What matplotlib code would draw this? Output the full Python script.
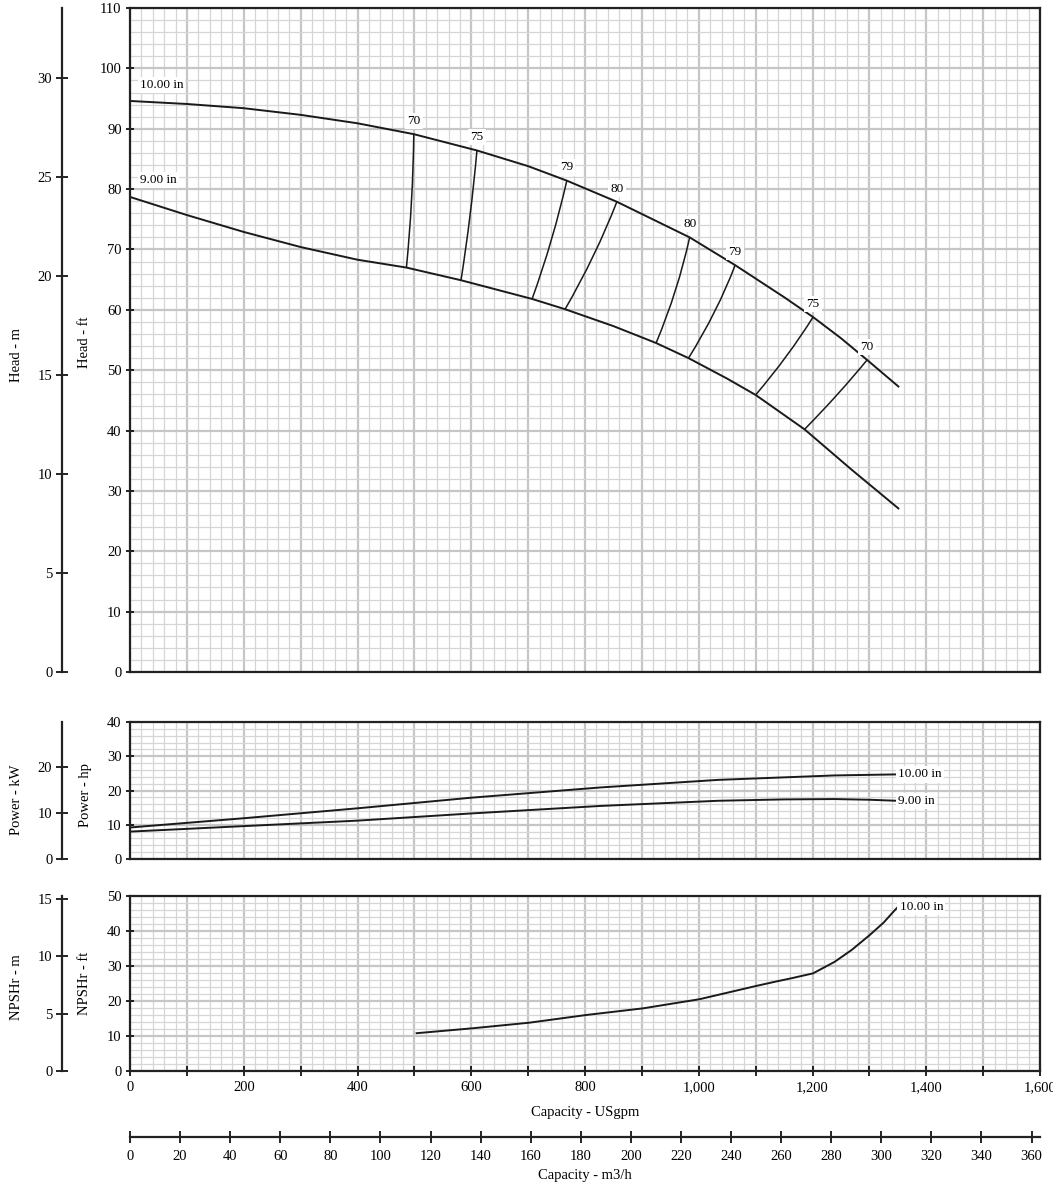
import matplotlib
matplotlib.use("Agg")
from matplotlib import pyplot as plt
from matplotlib.ticker import MultipleLocator, FuncFormatter
from matplotlib.path import Path
from matplotlib.patches import PathPatch
import numpy as np

plt.rcParams['font.family'] = ['Liberation Serif', 'DejaVu Serif']
plt.rcParams['font.size'] = 10

# unit conversions
FT_M = 0.3048
HP_KW = 0.7457
GPM_M3H = 0.22712

# head curves (USgpm, ft)
q_10 = [0, 100, 200, 300, 400, 499, 610, 700, 768, 856, 984, 1064, 1150, 1201, 1250, 1296, 1351]
h_10 = [94.6, 94.1, 93.4, 92.3, 90.9, 89.1, 86.4, 83.8, 81.4, 77.9, 72.0, 67.4, 62.1, 58.8, 55.3, 51.7, 47.3]
q_9 = [0, 100, 200, 300, 400, 486, 582, 707, 765, 850, 925, 982, 1050, 1100, 1186, 1269, 1310, 1351]
h_9 = [78.7, 75.7, 72.9, 70.4, 68.3, 67.0, 64.9, 61.8, 60.1, 57.3, 54.5, 52.0, 48.6, 45.9, 40.2, 33.5, 30.3, 27.1]

# iso-efficiency lines: top point, middle point, bottom point
eff_labels = ['70', '75', '79', '80', '80', '79', '75', '70']
eff_q = [[499, 495, 486], [610, 598, 582], [768, 741, 707], [856, 815, 765],
         [984, 959, 925], [1064, 1028, 982], [1201, 1154, 1100], [1296, 1244, 1186]]
eff_h = [[89.1, 78.0, 67.0], [86.4, 75.7, 64.9], [81.4, 71.6, 61.8], [77.9, 69.0, 60.1],
         [72.0, 63.2, 54.5], [67.4, 59.7, 52.0], [58.8, 52.3, 45.9], [51.7, 46.0, 40.2]]

# power (USgpm, hp)
pq_10 = [0, 200, 400, 600, 828, 1034, 1239, 1348]
p_10 = [9.2, 11.9, 14.8, 17.9, 20.9, 23.1, 24.4, 24.7]
pq_9 = [0, 200, 400, 600, 828, 1034, 1150, 1239, 1300, 1348]
p_9 = [8.0, 9.6, 11.2, 13.3, 15.5, 17.0, 17.4, 17.5, 17.3, 17.0]

# NPSHr (USgpm, ft)
nq = [504, 602, 702, 802, 902, 1001, 1101, 1134, 1163, 1201, 1239, 1269, 1301, 1325, 1345, 1351]
npsh = [10.8, 12.2, 13.8, 16.0, 17.9, 20.5, 24.3, 25.5, 26.5, 27.9, 31.2, 34.6, 38.9, 42.4, 46.0, 47.0]

W, H = 1053, 1188
fig = plt.figure(figsize=(W / 100, H / 100), dpi=100)
PX = 72 / 100  # points per pixel

def box(top, bottom):
    return [130 / W, 1 - bottom / H, 910 / W, (bottom - top) / H]

def style(ax, ymax, ystep):
    ax.set_xlim(0, 1600)
    ax.set_ylim(0, ymax)
    ax.xaxis.set_major_locator(MultipleLocator(100))
    ax.xaxis.set_minor_locator(MultipleLocator(20))
    ax.yaxis.set_major_locator(MultipleLocator(ystep))
    ax.yaxis.set_minor_locator(MultipleLocator(2))
    ax.grid(which='major', color='#c6c6c6', lw=1.6)
    ax.grid(which='minor', color='#d6d6d6', lw=0.9)
    ax.set_axisbelow(True)
    for s in ax.spines.values():
        s.set_color('#222222')
        s.set_linewidth(1.6)
    ax.tick_params(which='minor', length=0)
    ax.tick_params(axis='y', which='major', direction='inout', length=6, width=1.2, pad=3, labelsize=10.5)
    ax.tick_params(axis='x', which='major', length=0, labelbottom=False)

def side_axis(ax, factor, step, label, lab_y, lab_x2, label2):
    ax2 = ax.twinx()
    lo, hi = ax.get_ylim()
    ax2.set_ylim(lo * factor, hi * factor)
    ax2.yaxis.set_ticks_position('left')
    ax2.yaxis.set_label_position('left')
    ax2.spines['left'].set_position(('outward', 68 * PX))
    for k in ['right', 'top', 'bottom']:
        ax2.spines[k].set_visible(False)
    ax2.spines['left'].set_linewidth(1.6)
    ax2.spines['left'].set_color('#222222')
    ax2.yaxis.set_major_locator(MultipleLocator(step))
    ax2.tick_params(axis='y', direction='inout', length=8, width=1.2, pad=3, labelsize=10.5)
    fig.text(17 / W, 1 - lab_y / H, label, rotation=90, ha='center', va='center', fontsize=10.5)
    fig.text(85 / W, 1 - lab_x2 / H, label2, rotation=90, ha='center', va='center', fontsize=10.5)

lab_box = dict(facecolor='white', edgecolor='none', pad=1.5)

# ---- head
ax_h = fig.add_axes(box(8, 672))
style(ax_h, 110, 10)
ax_h.plot(q_10, h_10, color='#1a1a1a', lw=1.4)
ax_h.plot(q_9, h_9, color='#1a1a1a', lw=1.4)
for lab, qq, hh in zip(eff_labels, eff_q, eff_h):
    # quadratic curve through top, middle and bottom point
    p0 = np.array([qq[0], hh[0]])
    pm = np.array([qq[1], hh[1]])
    p2 = np.array([qq[2], hh[2]])
    ctrl = 2 * pm - 0.5 * (p0 + p2)
    path = Path([p0, ctrl, p2], [Path.MOVETO, Path.CURVE3, Path.CURVE3])
    ax_h.add_patch(PathPatch(path, fill=False, edgecolor='#1a1a1a', lw=1.1))
    ax_h.annotate(lab, (qq[0], hh[0]), xytext=(0, 9.5), textcoords='offset points',
                  ha='center', va='center', fontsize=9.5, bbox=lab_box)
ax_h.text(17, 97.3, '10.00 in', ha='left', va='center', fontsize=9.5, bbox=lab_box)
ax_h.text(17, 81.5, '9.00 in', ha='left', va='center', fontsize=9.5, bbox=lab_box)
side_axis(ax_h, FT_M, 5, 'Head - m', 355, 342, 'Head - ft')

# ---- power
ax_p = fig.add_axes(box(722, 859))
style(ax_p, 40, 10)
ax_p.plot(pq_10, p_10, color='#1a1a1a', lw=1.4)
ax_p.plot(pq_9, p_9, color='#1a1a1a', lw=1.4)
ax_p.text(pq_10[-1] + 2, p_10[-1], '10.00 in', ha='left', va='center', fontsize=9.5, bbox=lab_box)
ax_p.text(pq_9[-1] + 2, p_9[-1], '9.00 in', ha='left', va='center', fontsize=9.5, bbox=lab_box)
side_axis(ax_p, HP_KW, 10, 'Power - kW', 800, 795, 'Power - hp')

# ---- NPSHr
ax_n = fig.add_axes(box(896, 1071))
style(ax_n, 50, 10)
ax_n.plot(nq, npsh, color='#1a1a1a', lw=1.4)
ax_n.text(nq[-1] + 2, npsh[-1], '10.00 in', ha='left', va='center', fontsize=9.5, bbox=lab_box)
side_axis(ax_n, FT_M, 5, 'NPSHr - m', 987, 983, 'NPSHr - ft')
ax_n.tick_params(axis='x', which='major', direction='inout', length=7, width=1.2,
                 labelbottom=True, pad=4, labelsize=10.5)
ax_n.xaxis.set_major_formatter(FuncFormatter(lambda v, p: '{:,.0f}'.format(v) if v % 200 == 0 else ''))
ax_n.set_xlabel('Capacity - USgpm', fontsize=10.5, labelpad=8)

# ---- m3/h scale
ax_m = fig.add_axes([130 / W, 1 - 1137 / H, 910 / W, 0.001])
ax_m.set_xlim(0, 1600 * GPM_M3H)
ax_m.set_yticks([])
for k in ['left', 'right', 'top']:
    ax_m.spines[k].set_visible(False)
ax_m.spines['bottom'].set_linewidth(1.6)
ax_m.spines['bottom'].set_color('#222222')
ax_m.patch.set_visible(False)
ax_m.xaxis.set_major_locator(MultipleLocator(20))
ax_m.tick_params(axis='x', direction='inout', length=9, width=1.2, pad=5, labelsize=10.5)
ax_m.set_xlabel('Capacity - m3/h', fontsize=10.5, labelpad=4)

fig.savefig('out.png', dpi=100)
